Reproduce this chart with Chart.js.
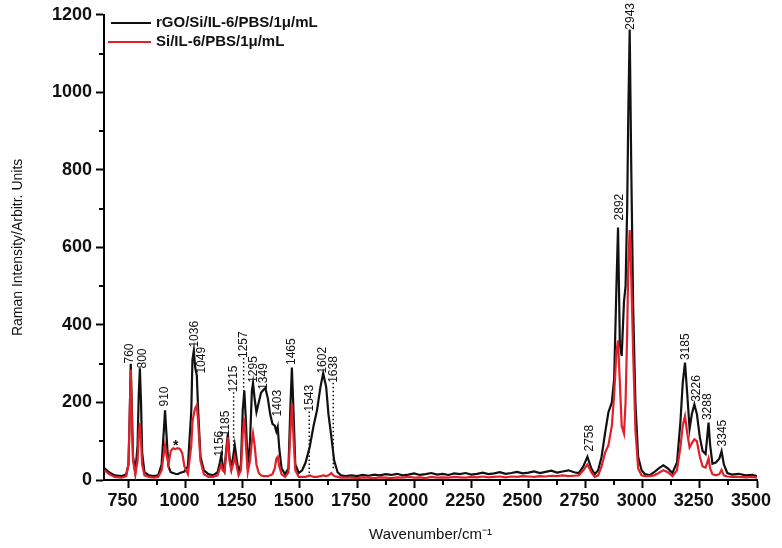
<!DOCTYPE html>
<html>
<head>
<meta charset="utf-8">
<script src="https://cdn.jsdelivr.net/npm/chart.js@4.4.0/dist/chart.umd.min.js"></script>
<style>
  body { margin: 0; background: #fff; }
</style>
</head>
<body>
<canvas id="raman" width="782" height="548"></canvas>
<script>
// Raman spectra (wavenumber in cm-1, intensity in arb. units)
var wavenumbers = [
    645, 665, 690, 720, 740, 750, 755, 760, 765, 770, 780,
    790, 795, 800, 805, 810, 820, 840, 860, 880, 895,
    905, 910, 915, 925, 935, 945, 955, 965, 975, 985,
    995, 1010, 1025, 1030, 1036, 1042, 1049, 1055, 1065, 1080,
    1100, 1120, 1140, 1150, 1156, 1162, 1170, 1178, 1185, 1192,
    1200, 1208, 1215, 1222, 1232, 1242, 1250, 1257, 1264, 1272,
    1282, 1290, 1295, 1302, 1310, 1320, 1330, 1340, 1349, 1360,
    1370, 1380, 1390, 1397, 1403, 1410, 1420, 1435, 1450, 1458,
    1465, 1472, 1480, 1495, 1510, 1525, 1543, 1560, 1575, 1590,
    1602, 1615, 1625, 1638, 1650, 1665, 1680, 1700, 1725, 1750,
    1775, 1800, 1825, 1850, 1875, 1900, 1925, 1950, 1975, 2000,
    2025, 2050, 2075, 2100, 2125, 2150, 2175, 2200, 2225, 2250,
    2275, 2300, 2325, 2350, 2375, 2400, 2425, 2450, 2475, 2500,
    2525, 2550, 2575, 2600, 2625, 2650, 2675, 2700, 2720, 2740,
    2758, 2775, 2790, 2805, 2820, 2835, 2850, 2865, 2875, 2885,
    2892, 2900, 2908, 2918, 2925, 2932, 2937, 2943, 2950, 2958,
    2968, 2980, 2995, 3010, 3030, 3050, 3070, 3090, 3110, 3130,
    3150, 3165, 3175, 3185, 3195, 3205, 3215, 3226, 3237, 3250,
    3262, 3275, 3282, 3288, 3295, 3305, 3320, 3335, 3345, 3355,
    3370, 3390, 3420, 3450, 3480, 3500
];

// rGO/Si/IL-6/PBS/1µ/mL
var rgoIntensity = [
    30, 20, 12, 10, 14, 40, 150, 300, 180, 60, 20,
    90, 220, 288, 200, 70, 20, 12, 10, 12, 40,
    130, 180, 130, 35, 20, 18, 16, 15, 18, 20,
    22, 35, 180, 310, 334, 290, 270, 180, 60, 25,
    15, 12, 20, 45, 64, 40, 25, 80, 120, 60,
    30, 60, 90, 60, 20, 40, 180, 231, 150, 30,
    100, 230, 250, 210, 175, 200, 225, 232, 237, 210,
    170, 145, 140, 125, 137, 80, 30, 15, 30, 180,
    290, 180, 40, 18, 25, 45, 85, 140, 180, 240,
    275, 240, 170, 110, 50, 20, 12, 10, 12, 10,
    13, 11, 14, 12, 15, 13, 16, 12, 14, 17,
    13, 15, 18, 14, 16, 13, 17, 15, 18, 14,
    16, 19, 15, 17, 20, 16, 18, 21, 17, 19,
    22, 18, 21, 24, 19, 22, 25, 20, 18, 35,
    60, 30, 15, 25, 60, 120, 175, 200, 260, 500,
    651, 350, 320, 460, 500, 700, 950, 1162, 800, 450,
    200, 60, 25, 15, 12, 20, 30, 38, 30, 18,
    45, 150, 250, 303, 220, 132, 170, 195, 170, 110,
    75, 67, 110, 148, 90, 42, 45, 55, 74, 40,
    18, 14, 16, 12, 13, 10
];

// Si/IL-6/PBS/1µ/mL
var siIntensity = [
    25, 15, 8, 6, 10, 40, 160, 285, 160, 50, 15,
    50, 120, 146, 100, 40, 12, 8, 6, 8, 25,
    70, 90, 70, 40, 75, 82, 80, 82, 80, 70,
    35, 15, 90, 150, 170, 185, 193, 150, 50, 15,
    8, 8, 12, 30, 40, 25, 20, 70, 110, 50,
    25, 40, 60, 40, 12, 25, 120, 160, 90, 20,
    50, 100, 120, 90, 40, 18, 12, 10, 10, 10,
    12, 15, 30, 55, 60, 35, 15, 8, 20, 120,
    198, 110, 25, 8, 8, 8, 12, 8, 8, 10,
    12, 10, 12, 18, 10, 8, 6, 6, 6, 5,
    7, 6, 5, 7, 6, 5, 7, 6, 8, 6,
    7, 5, 8, 6, 7, 6, 8, 7, 6, 8,
    7, 9, 7, 8, 9, 7, 9, 8, 10, 9,
    8, 10, 9, 11, 10, 12, 10, 11, 12, 25,
    40, 20, 8, 12, 35, 70, 90, 140, 220, 330,
    360, 250, 140, 120, 200, 380, 560, 645, 520, 330,
    130, 30, 12, 10, 10, 12, 18, 25, 20, 10,
    25, 85, 140, 165, 120, 84, 95, 105, 100, 60,
    35, 32, 45, 56, 30, 15, 12, 15, 26, 12,
    9, 8, 8, 7, 8, 6
];

var seriesNames = ["rGO/Si/IL-6/PBS/1\u03bc/mL", "Si/IL-6/PBS/1\u03bc/mL"];
var xTickValues = [750, 1000, 1250, 1500, 1750, 2000, 2250, 2500, 2750, 3000, 3250, 3500];

// peak labels: text, where it sits (wavenumber, intensity at its foot), dotted leader down to
var peakNames = ["760", "800", "910", "1036", "1049", "1156", "1185", "1215", "1257", "1295", "1349", "1403",
    "1465", "1543", "1602", "1638", "2758", "2892", "2943", "3185", "3226", "3288", "3345"];
var peakLabelX = [756, 811, 910, 1041, 1071, 1147, 1176, 1210, 1254, 1299, 1343, 1405,
    1465, 1541, 1599, 1646, 2767, 2901, 2949, 3190, 3234, 3285, 3351];
var peakLabelY = [298, 285, 187, 339, 272, 58, 110, 224, 312, 248, 230, 161,
    294, 174, 272, 248, 71, 667, 1159, 307, 199, 152, 84];
var peakLeaderTo = [null, null, null, null, null, null, null, 83, 230, null, null, null,
    null, 16, null, 24, null, null, null, null, null, null, null];

var FONT = '"Liberation Sans", Arial, Helvetica, sans-serif';
var RED = "#e0202a";

function toPoints(ys) {
    return wavenumbers.map(function (x, i) { return { x: x, y: ys[i] }; });
}

var annotate = {
    id: "annotate",
    afterDraw: function (chart) {
        var ctx = chart.ctx;
        var xs = chart.scales.x, ys = chart.scales.y;
        ctx.save();

        // minor ticks
        ctx.strokeStyle = "#000";
        ctx.lineWidth = 2;
        ctx.beginPath();
        for (var m = 875; m < 3500; m += 250) {
            var px = Math.round(xs.getPixelForValue(m));
            ctx.moveTo(px, xs.top);
            ctx.lineTo(px, xs.top + 5);
        }
        for (var n = 100; n < 1200; n += 200) {
            var py = Math.round(ys.getPixelForValue(n));
            ctx.moveTo(ys.right, py);
            ctx.lineTo(ys.right - 5, py);
        }
        ctx.stroke();

        // legend
        var lx = chart.chartArea.left;
        ctx.lineWidth = 2;
        ctx.strokeStyle = "#111";
        ctx.beginPath(); ctx.moveTo(lx + 7, 23); ctx.lineTo(lx + 47, 23); ctx.stroke();
        ctx.strokeStyle = RED;
        ctx.beginPath(); ctx.moveTo(lx + 4, 42); ctx.lineTo(lx + 47, 42); ctx.stroke();
        ctx.fillStyle = "#111";
        ctx.font = "bold 15px " + FONT;
        ctx.textBaseline = "middle";
        ctx.textAlign = "left";
        ctx.fillText(seriesNames[0], lx + 52, 23);
        ctx.fillText(seriesNames[1], lx + 52, 42);

        // peak labels
        ctx.font = "12px " + FONT;
        peakNames.forEach(function (txt, i) {
            var x = xs.getPixelForValue(peakLabelX[i]);
            var y = ys.getPixelForValue(peakLabelY[i]);
            ctx.save();
            ctx.translate(x, y);
            ctx.rotate(-Math.PI / 2);
            ctx.textAlign = "left";
            ctx.textBaseline = "middle";
            ctx.fillText(txt, 1, 0);
            ctx.restore();
            if (peakLeaderTo[i] !== null) {
                ctx.save();
                ctx.setLineDash([1.5, 2.5]);
                ctx.lineWidth = 1.5;
                ctx.strokeStyle = "#111";
                ctx.beginPath();
                ctx.moveTo(x, y - 1);
                ctx.lineTo(x, ys.getPixelForValue(peakLeaderTo[i]));
                ctx.stroke();
                ctx.restore();
            }
        });

        // asterisk over the broad Si band
        ctx.font = "bold 14px " + FONT;
        ctx.textAlign = "center";
        ctx.fillText("*", xs.getPixelForValue(957), ys.getPixelForValue(88));
        ctx.restore();
    }
};

new Chart("raman", {
    type: "line",
    data: {
        datasets: [{
            label: seriesNames[1],
            data: toPoints(siIntensity),
            borderColor: RED,
            borderWidth: 2.2
        }, {
            label: seriesNames[0],
            data: toPoints(rgoIntensity),
            borderColor: "#111",
            borderWidth: 2.2
        }]
    },
    options: {
        responsive: false,
        animation: false,
        devicePixelRatio: 1,
        layout: { padding: { top: 12, right: 25, left: 0, bottom: 0 } },
        elements: { point: { radius: 0 }, line: { tension: 0 } },
        plugins: { legend: { display: false }, tooltip: { enabled: false } },
        scales: {
            x: {
                type: "linear",
                min: 643,
                max: 3500,
                afterBuildTicks: function (axis) {
                    axis.ticks = xTickValues.map(function (v) { return { value: v }; });
                },
                afterFit: function (s) { s.height = 68; },
                ticks: {
                    font: { family: FONT, size: 18, weight: "bold" },
                    color: "#111",
                    maxRotation: 0,
                    autoSkip: false,
                    padding: 2,
                    labelOffset: -6,
                    callback: function (v) { return String(v); }
                },
                grid: { drawOnChartArea: false, tickLength: 8, tickWidth: 2, tickColor: "#000" },
                border: { color: "#000", width: 2 },
                title: {
                    display: true,
                    text: "Wavenumber/cm\u207b\u00b9",
                    color: "#111",
                    font: { family: FONT, size: 15 },
                    padding: { top: 12 }
                }
            },
            y: {
                min: 0,
                max: 1200,
                afterFit: function (s) { s.width = 104; },
                ticks: {
                    stepSize: 200,
                    font: { family: FONT, size: 18, weight: "bold" },
                    color: "#111",
                    padding: 4,
                    callback: function (v) { return String(v); }
                },
                grid: { drawOnChartArea: false, tickLength: 8, tickWidth: 2, tickColor: "#000" },
                border: { color: "#000", width: 2 },
                title: {
                    display: true,
                    text: "Raman Intensity/Arbitr. Units",
                    color: "#111",
                    font: { family: FONT, size: 14 },
                    padding: { top: 10 }
                }
            }
        }
    },
    plugins: [annotate]
});
</script>
</body>
</html>
